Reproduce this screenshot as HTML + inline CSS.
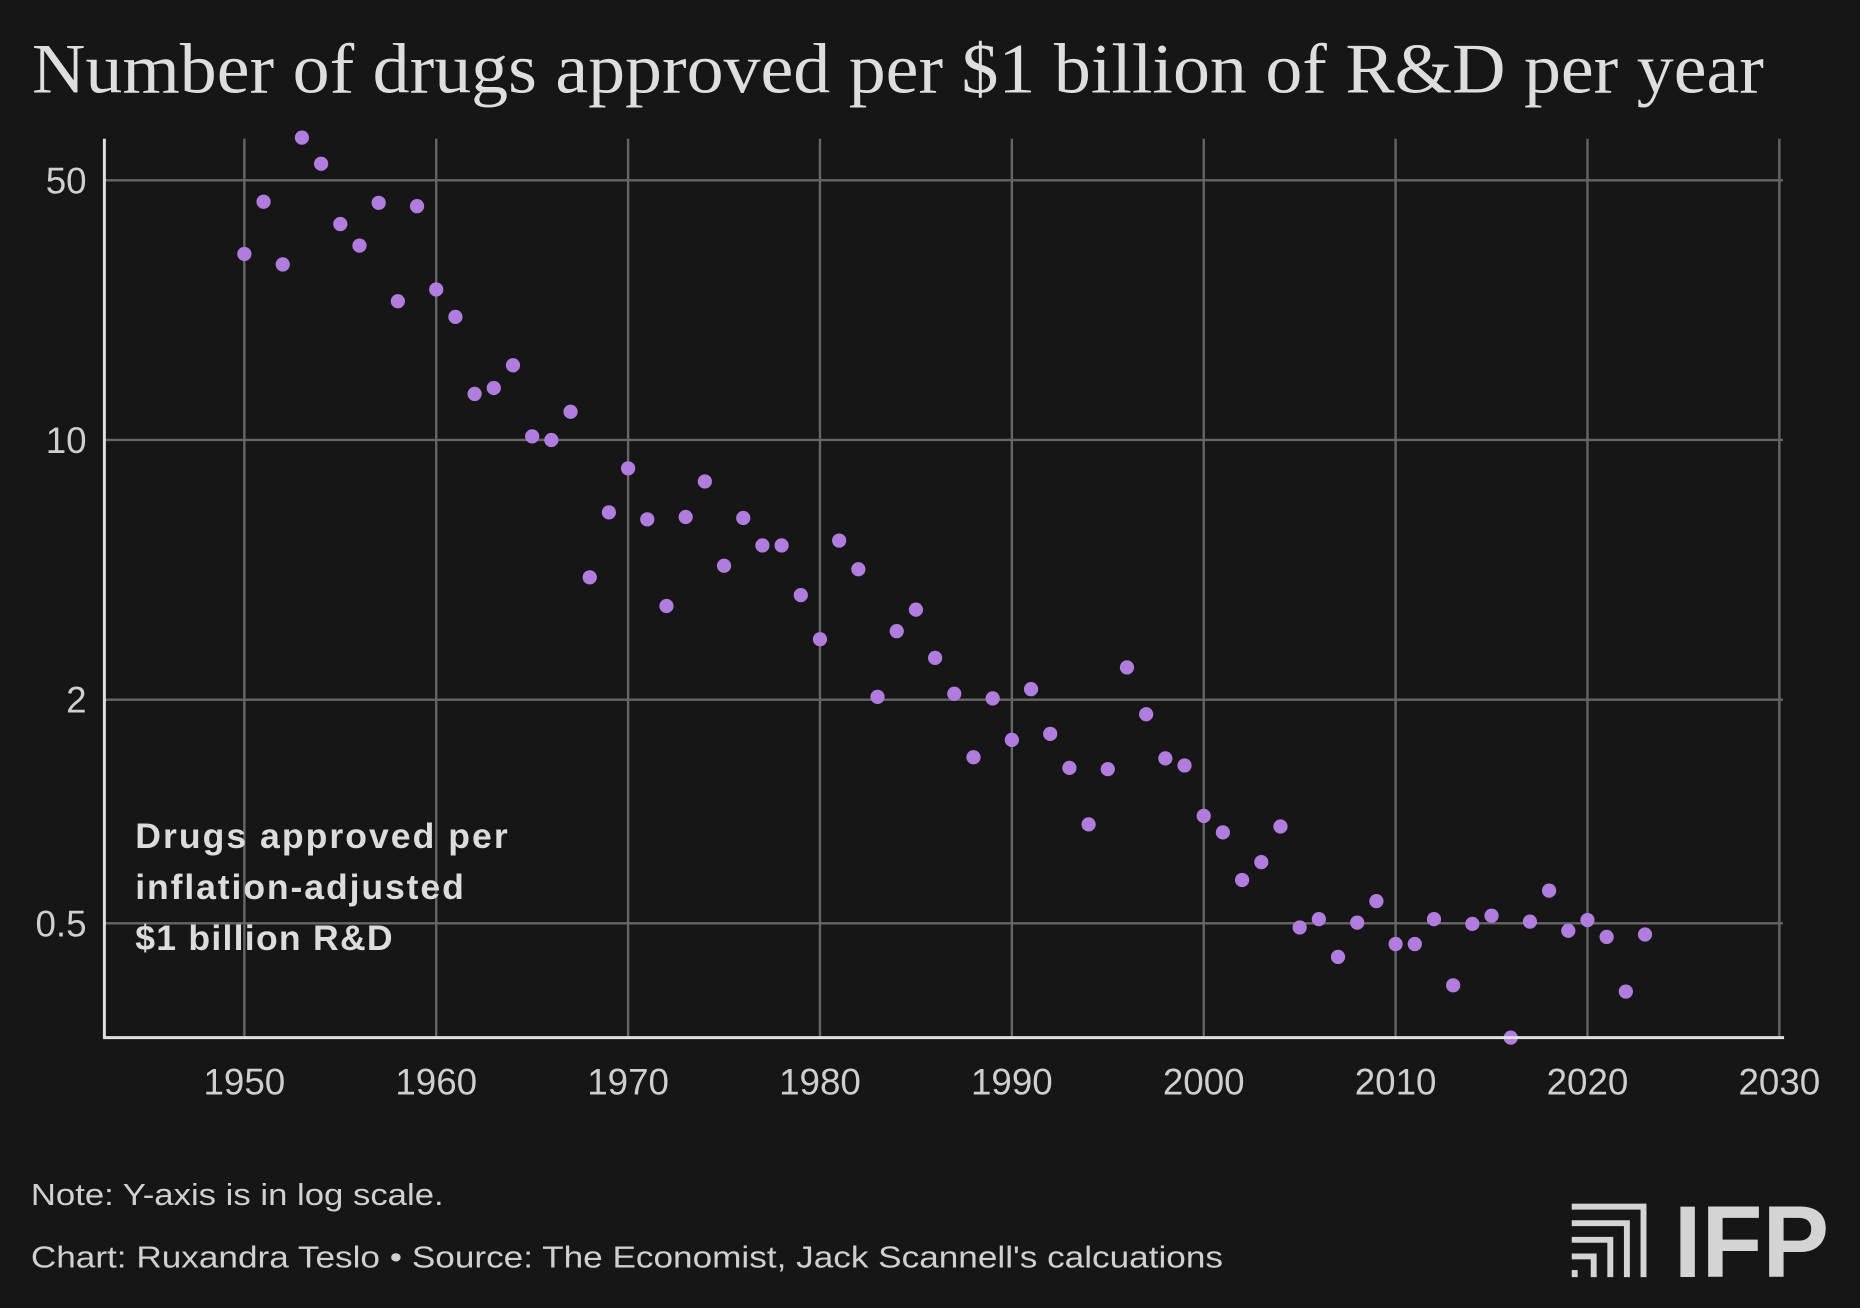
<!DOCTYPE html>
<html><head><meta charset="utf-8"><style>
html,body{margin:0;padding:0;background:#161616;}
svg{display:block;}
</style></head><body>
<svg width="1860" height="1308" viewBox="0 0 1568 1103" preserveAspectRatio="none" xmlns="http://www.w3.org/2000/svg">
<rect width="1568" height="1103" fill="#161616"/>
<text x="27" y="78" fill="#dedede" font-family="Liberation Serif, serif" font-size="60" textLength="1460" lengthAdjust="spacingAndGlyphs">Number of drugs approved per $1 billion of R&amp;D per year</text>
<g id="grid"></g>
<g id="dots"></g>
<g id="axes"></g>
<text font-family="Liberation Sans, sans-serif" font-weight="bold" font-size="30" fill="#dcdcdc" lengthAdjust="spacingAndGlyphs">
<tspan x="114" y="715" textLength="314">Drugs approved per</tspan>
<tspan x="114" y="758" textLength="277">inflation-adjusted</tspan>
<tspan x="114" y="801" textLength="217">$1 billion R&amp;D</tspan>
</text>
<text x="26" y="1016" fill="#d0d0d0" font-family="Liberation Sans, sans-serif" font-size="26" textLength="348" lengthAdjust="spacingAndGlyphs">Note: Y-axis is in log scale.</text>
<text x="26" y="1069" fill="#d0d0d0" font-family="Liberation Sans, sans-serif" font-size="26" textLength="1005" lengthAdjust="spacingAndGlyphs">Chart: Ruxandra Teslo • Source: The Economist, Jack Scannell's calcuations</text>
<g fill="#d4d4d4">
<path d="M1325 1015 H1388 V1077 H1383 V1020 H1325Z"/>
<path d="M1325 1029 H1374 V1077 H1369 V1034 H1325Z"/>
<path d="M1325 1043 H1360 V1077 H1355 V1048 H1325Z"/>
<path d="M1325 1057 H1346 V1077 H1341 V1062 H1325Z"/>
<rect x="1325" y="1071" width="5" height="6"/>
<text x="1411" y="1077" font-family="Liberation Sans, sans-serif" font-weight="bold" font-size="86" textLength="131" lengthAdjust="spacingAndGlyphs">IFP</text>
</g>
</svg>
<script>
const years = [1950,1951,1952,1953,1954,1955,1956,1957,1958,1959,1960,1961,1962,1963,1964,1965,1966,1967,1968,1969,1970,1971,1972,1973,1974,1975,1976,1977,1978,1979,1980,1981,1982,1983,1984,1985,1986,1987,1988,1989,1990,1991,1992,1993,1994,1995,1996,1997,1998,1999,2000,2001,2002,2003,2004,2005,2006,2007,2008,2009,2010,2011,2012,2013,2014,2015,2016,2017,2018,2019,2020,2021,2022,2023];
const drugsPerBillion = [31.9,44.1,29.9,65.6,55.8,38.4,33.6,43.8,23.8,42.9,25.6,21.6,13.4,13.9,16.0,10.3,10.07,12.0,4.30,6.43,8.45,6.16,3.60,6.25,7.79,4.62,6.21,5.24,5.24,3.85,2.93,5.40,4.52,2.05,3.08,3.52,2.61,2.09,1.41,2.03,1.57,2.15,1.63,1.32,0.93,1.31,2.46,1.84,1.40,1.34,0.98,0.885,0.659,0.736,0.918,0.491,0.517,0.409,0.506,0.578,0.443,0.443,0.517,0.343,0.502,0.528,0.248,0.509,0.617,0.481,0.514,0.463,0.330,0.470];
const xTicks = [1950,1960,1970,1980,1990,2000,2010,2020,2030];
const yTicks = [50,10,2,0.5];
const yTickLabels = ["50","10","2","0.5"];

const NS = "http://www.w3.org/2000/svg";
const X0 = 88, X1 = 1503, Y0 = 117, Y1 = 875;
const xs = y => 206 + (y - 1950) * (1500 - 206) / 80;
const ys = v => 371 - 313.3 * Math.log10(v / 10);
function mk(tag, attrs, parent) {
  const e = document.createElementNS(NS, tag);
  for (const k in attrs) e.setAttribute(k, attrs[k]);
  parent.appendChild(e);
  return e;
}
const grid = document.getElementById('grid');
const dots = document.getElementById('dots');
const axes = document.getElementById('axes');
xTicks.forEach(t => {
  const l = mk('line', {x1: xs(t), x2: xs(t), y1: Y0, y2: Y1, stroke: '#666', 'stroke-width': 2}, grid);
  
  
  const tx = mk('text', {x: xs(t), y: 923, fill: '#cfcfcf', 'font-family': 'Liberation Sans, sans-serif', 'font-size': 31, 'text-anchor': 'middle'}, axes);
  tx.textContent = String(t);
  
  
});
yTicks.forEach((t, i) => {
  const l = mk('line', {x1: X0, x2: X1, y1: ys(t), y2: ys(t), stroke: '#666', 'stroke-width': 2}, grid);
  
  
  const tx = mk('text', {x: 73, y: ys(t) + 11, fill: '#cfcfcf', 'font-family': 'Liberation Sans, sans-serif', 'font-size': 31, 'text-anchor': 'end'}, axes);
  tx.textContent = yTickLabels[i];
  
  
});
const ya = mk('line', {x1: X0, x2: X0, y1: Y0, y2: Y1 + 1, stroke: '#e0e0e0', 'stroke-width': 2.5}, axes);


const xa = mk('line', {x1: X0 - 1, x2: X1 + 1, y1: Y1, y2: Y1, stroke: '#e0e0e0', 'stroke-width': 2.5}, axes);


years.forEach((yr, i) => {
  const c = mk('circle', {cx: xs(yr), cy: ys(drugsPerBillion[i]) + 1, r: 6, fill: '#b07ddf'}, dots);
  
  
});
</script>
</body></html>
